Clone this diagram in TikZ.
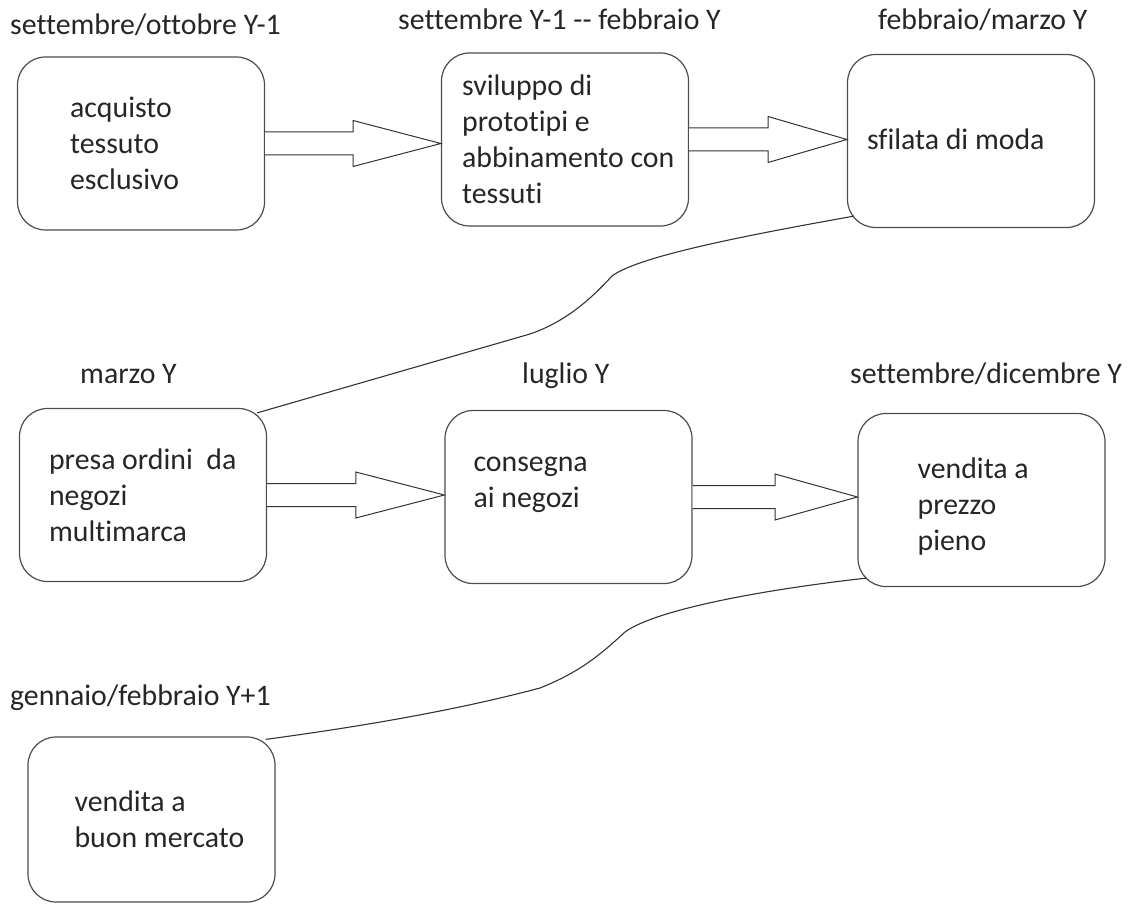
\documentclass[tikz,border=0pt]{standalone}
\usepackage{fontspec}
\setmainfont{Carlito}[Ligatures={NoCommon}]
\usetikzlibrary{calc}
\usetikzlibrary{positioning}
\tikzstyle{stage}=[draw=black!70,line width=1.2pt,rounded corners=28pt,minimum width=247pt,minimum height=173pt,inner sep=0pt]
\tikzstyle{inside}=[inner sep=0pt,align=left,text=black!85]
\tikzstyle{when}=[inner sep=0pt,anchor=base west,text=black!85]
\tikzstyle{fat}=[draw=black!80,line width=1pt,fill=white,line join=miter]
\tikzstyle{link}=[draw=black!80,line width=1.1pt]
\newcommand\fatarrow[2]{%
  \draw[fat] let \p1=(#1.east), \p2=(#2.west), \n1={(\x1+\x2)/2} in
    (\x1,\y1+11.5pt) -- (\n1,\y1+11.5pt) -- (\n1,\y1+23pt) -- (\x2,\y1)
    -- (\n1,\y1-23pt) -- (\n1,\y1-11.5pt) -- (\x1,\y1-11.5pt);}

\begin{document}
\begin{tikzpicture}[x=1pt,y=-1pt,font=\fontsize{29.8}{36}\selectfont]
	\useasboundingbox (0,0) rectangle (1127,904);
	% first row
	\node[stage] (acq)  at (141,143.5) {};
	\node[stage] (svil) at (565,139.5) {};
	\node[stage] (sfil) at (971,141) {};
	\node[when] (acqwhen)  at (10,35)  {settembre/ottobre Y-1};
	\node[when] (svilwhen) at (398,30) {settembre Y-1 -{}- febbraio Y};
	\node[when] (sfilwhen) at (878,30) {febbraio/marzo Y};
	\node[inside,right=53pt of acq.west]  (acqtxt)  {acquisto\\tessuto\\esclusivo};
	\node[inside,right=21pt of svil.west] (sviltxt) {sviluppo di\\prototipi e\\abbinamento con\\tessuti};
	\node[inside,right=20pt of sfil.west,yshift=2pt] (sfiltxt) {sfilata di moda};
	% second row
	\node[stage] (ord)  at (143,495) {};
	\node[stage] (cons) at (568.5,497) {};
	\node[stage] (vend) at (981.5,500) {};
	\node[when] (ordwhen)  at (80,383)  {marzo Y};
	\node[when] (conswhen) at (522,383) {luglio Y};
	\node[when] (vendwhen) at (850,383) {settembre/dicembre Y};
	\node[inside,right=30pt of ord.west]  (ordtxt)  {presa ordini\ \ da\\negozi\\multimarca};
	\node[inside,right=29pt of cons.west,yshift=12pt] (constxt) {consegna\\ai negozi};
	\node[inside,right=60pt of vend.west,yshift=-7pt] (vendtxt) {vendita a\\prezzo\\pieno};
	% third row
	\node[stage,minimum height=165pt] (saldi) at (151.5,819.5) {};
	\node[when] (saldiwhen) at (10,705) {gennaio/febbraio Y+1};
	\node[inside,right=47pt of saldi.west] (salditxt) {vendita a\\buon mercato};
	% arrows
	\fatarrow{acq}{svil}
	\fatarrow{svil}{sfil}
	\fatarrow{ord}{cons}
	\fatarrow{cons}{vend}
	\draw[link] ($(sfil.south west)+(7,-12)$) .. controls (760,233) and (640,255) .. (612,276)
		.. controls (590,300) and (565,322) .. (530,334) -- ($(ord.north east)+(-10,5)$);
	\draw[link] ($(vend.south west)+(9,-9)$) .. controls (760,590) and (655,610) .. (625,632)
		.. controls (600,655) and (580,672) .. (540,688)
		.. controls (450,712) and (350,728) .. ($(saldi.north east)+(-10,3)$);
\end{tikzpicture}
\end{document}
